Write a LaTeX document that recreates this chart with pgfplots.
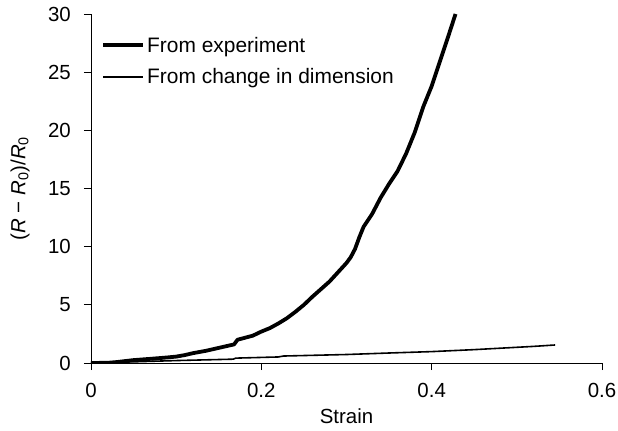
\documentclass[border=0pt]{standalone}
\usepackage{fontspec}
\setmainfont{Liberation Sans}
\usepackage{pgfplots}
\pgfplotsset{compat=1.18}
\begin{document}
\begin{tikzpicture}[x=1bp,y=1bp]
\useasboundingbox (-91,-67) rectangle (527,363);
\begin{axis}[
  at={(0,0)}, anchor=south west,
  scale only axis, width=511bp, height=349bp,
  xmin=0, xmax=0.6, ymin=0, ymax=30,
  axis x line*=bottom, axis y line*=left,
  axis line style={line width=1pt, -},
  xtick={0,0.2,0.4,0.6}, ytick={0,5,10,15,20,25,30},
  xticklabels={0,0.2,0.4,0.6},
  tick align=outside, major tick length=7bp,
  tick style={line width=0.9pt, black},
  /pgf/number format/assume math mode=true,
  every tick label/.append style={font=\fontsize{20.5}{23}\selectfont},
  xticklabel style={inner sep=0pt, anchor=north, yshift=-13bp},
  yticklabel style={inner sep=0pt, anchor=east, xshift=-13bp},
  xlabel={Strain},
  ylabel={(\textit{R} − \textit{R}\textsubscript{0})/\textit{R}\textsubscript{0}},
  label style={font=\fontsize{20.5}{23}\selectfont},
  xlabel style={at={(axis description cs:0.5,-0.152)}, anchor=center},
  ylabel style={at={(axis description cs:-0.139,0.5)}, anchor=center},
  legend style={draw=none, fill=none, at={(axis cs:0.012,25.95)}, anchor=west,
    font=\fontsize{21}{24}\selectfont, row sep=11bp, inner sep=0pt,
    /tikz/every even column/.append style={column sep=5bp}},
  legend cell align=left,
  legend image code/.code={\draw[#1] (0bp,0bp) -- (40bp,0bp);},
]
\addplot[black, line width=3.8pt, line join=round] coordinates {
(0,0) (0.02,0.02) (0.03,0.08) (0.05,0.25) (0.07,0.36) (0.09,0.48) (0.1,0.55)
(0.11,0.68) (0.12,0.85) (0.135,1.05) (0.15,1.3) (0.168,1.6) (0.172,2.0)
(0.19,2.35) (0.2,2.7) (0.21,3.0) (0.22,3.4) (0.23,3.85) (0.24,4.4) (0.25,5.0)
(0.26,5.7) (0.27,6.35) (0.28,7.0) (0.29,7.8) (0.3,8.6) (0.305,9.1) (0.31,9.8)
(0.315,10.8) (0.32,11.7) (0.33,12.8) (0.34,14.2) (0.35,15.4) (0.36,16.5)
(0.37,18.0) (0.38,19.8) (0.39,22.0) (0.4,23.8) (0.41,26.0) (0.42,28.2) (0.428,30)
};
\addlegendentry{From experiment}
\addplot[black, line width=1.6pt] coordinates {
(0,0) (0.05,0.1) (0.1,0.21) (0.167,0.33) (0.17,0.42) (0.22,0.52) (0.226,0.6)
(0.3,0.73) (0.35,0.86) (0.4,0.98) (0.45,1.15) (0.5,1.35) (0.52,1.43) (0.545,1.55)
};
\addlegendentry{From change in dimension}
\end{axis}
\end{tikzpicture}
\end{document}
